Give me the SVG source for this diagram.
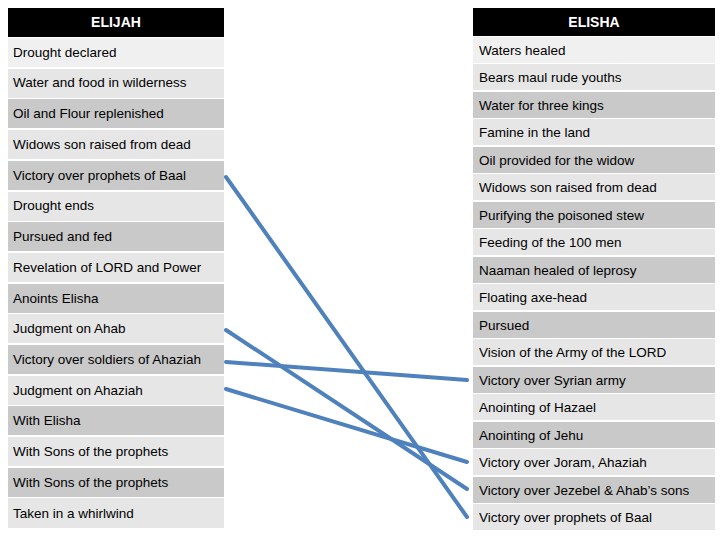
<svg xmlns="http://www.w3.org/2000/svg" width="720" height="540" viewBox="0 0 720 540">
<style>
text{font-family:"Liberation Sans",Arial,sans-serif;font-size:13.5px;fill:#000}
.h{fill:#000}.ht{fill:#fff;font-weight:bold;font-size:14px;text-anchor:middle}
.a{fill:#f0f0f0}.b{fill:#e6e6e6}.c{fill:#c9c9c9}
.ln{stroke:#4f81bd;stroke-width:4;fill:none;stroke-linecap:round}
</style>
<rect width="720" height="540" fill="#fff"/>
<g id="elijah">
<rect class="h" x="8" y="8" width="216" height="29"/><text class="ht" x="116" y="27">ELIJAH</text>
<rect class="a" x="8" y="38" width="216" height="29"/><text x="13" y="57">Drought declared</text>
<rect class="b" x="8" y="69" width="216" height="29"/><text x="13" y="87">Water and food in wilderness</text>
<rect class="c" x="8" y="99" width="216" height="29"/><text x="13" y="118">Oil and Flour replenished</text>
<rect class="b" x="8" y="130" width="216" height="29"/><text x="13" y="149">Widows son raised from dead</text>
<rect class="c" x="8" y="161" width="216" height="29"/><text x="13" y="180">Victory over prophets of Baal</text>
<rect class="b" x="8" y="192" width="216" height="29"/><text x="13" y="210">Drought ends</text>
<rect class="c" x="8" y="222" width="216" height="29"/><text x="13" y="241">Pursued and fed</text>
<rect class="b" x="8" y="253" width="216" height="29"/><text x="13" y="272">Revelation of LORD and Power</text>
<rect class="c" x="8" y="284" width="216" height="29"/><text x="13" y="303">Anoints Elisha</text>
<rect class="b" x="8" y="314" width="216" height="29"/><text x="13" y="333">Judgment on Ahab</text>
<rect class="c" x="8" y="345" width="216" height="29"/><text x="13" y="364">Victory over soldiers of Ahaziah</text>
<rect class="b" x="8" y="376" width="216" height="29"/><text x="13" y="395">Judgment on Ahaziah</text>
<rect class="c" x="8" y="406" width="216" height="29"/><text x="13" y="425">With Elisha</text>
<rect class="b" x="8" y="437" width="216" height="29"/><text x="13" y="456">With Sons of the prophets</text>
<rect class="c" x="8" y="468" width="216" height="29"/><text x="13" y="487">With Sons of the prophets</text>
<rect class="b" x="8" y="498" width="216" height="30"/><text x="13" y="518">Taken in a whirlwind</text>
</g>
<g id="elisha">
<rect class="h" x="473" y="8" width="242" height="28"/><text class="ht" x="594" y="27">ELISHA</text>
<rect class="a" x="473" y="37" width="242" height="26"/><text x="479" y="55">Waters healed</text>
<rect class="b" x="473" y="64" width="242" height="26"/><text x="479" y="82">Bears maul rude youths</text>
<rect class="c" x="473" y="92" width="242" height="26"/><text x="479" y="110">Water for three kings</text>
<rect class="b" x="473" y="119" width="242" height="26"/><text x="479" y="137">Famine in the land</text>
<rect class="c" x="473" y="147" width="242" height="26"/><text x="479" y="165">Oil provided for the widow</text>
<rect class="b" x="473" y="174" width="242" height="26"/><text x="479" y="192">Widows son raised from dead</text>
<rect class="c" x="473" y="202" width="242" height="26"/><text x="479" y="220">Purifying the poisoned stew</text>
<rect class="b" x="473" y="229" width="242" height="26"/><text x="479" y="247">Feeding of the 100 men</text>
<rect class="c" x="473" y="257" width="242" height="26"/><text x="479" y="275">Naaman healed of leprosy</text>
<rect class="b" x="473" y="284" width="242" height="26"/><text x="479" y="302">Floating axe-head</text>
<rect class="c" x="473" y="312" width="242" height="26"/><text x="479" y="330">Pursued</text>
<rect class="b" x="473" y="339" width="242" height="26"/><text x="479" y="357">Vision of the Army of the LORD</text>
<rect class="c" x="473" y="367" width="242" height="26"/><text x="479" y="385">Victory over Syrian army</text>
<rect class="b" x="473" y="394" width="242" height="26"/><text x="479" y="412">Anointing of Hazael</text>
<rect class="c" x="473" y="422" width="242" height="26"/><text x="479" y="440">Anointing of Jehu</text>
<rect class="b" x="473" y="449" width="242" height="26"/><text x="479" y="467">Victory over Joram, Ahaziah</text>
<rect class="c" x="473" y="477" width="242" height="26"/><text x="479" y="495">Victory over Jezebel &amp; Ahab’s sons</text>
<rect class="b" x="473" y="504" width="242" height="26"/><text x="479" y="522">Victory over prophets of Baal</text>
</g>
<g id="connectors">
<line class="ln" x1="226" y1="177" x2="467" y2="517"/>
<line class="ln" x1="226" y1="330" x2="467" y2="489"/>
<line class="ln" x1="226" y1="362" x2="467" y2="380"/>
<line class="ln" x1="226" y1="389" x2="467" y2="462"/>
</g>
</svg>
